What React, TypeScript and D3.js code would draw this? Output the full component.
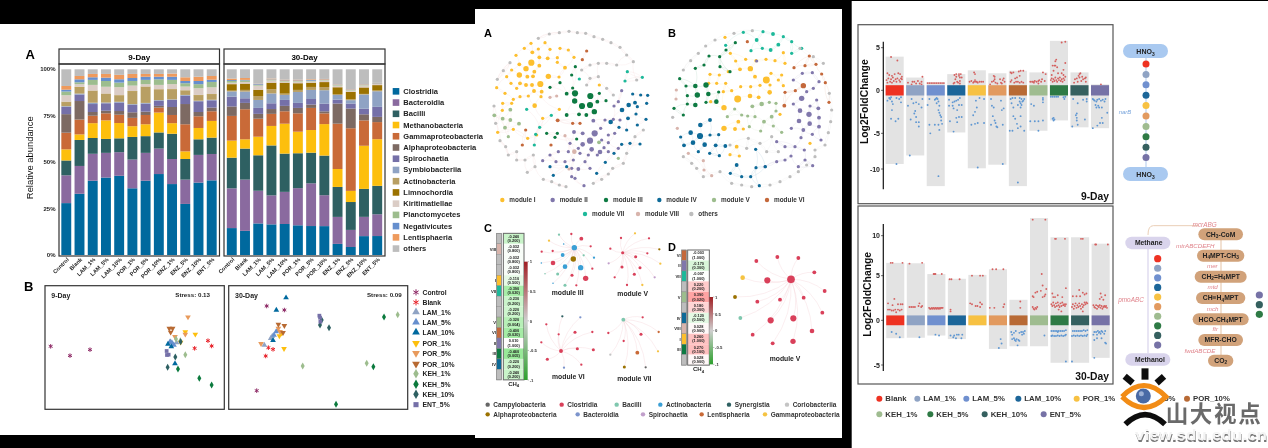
import * as d3 from 'd3';
import React from 'react';

const FONT = '"Liberation Sans", Arial, sans-serif';

// ---- A: stacked bars
const classNames = ['Clostridia', 'Bacteroidia', 'Bacilli', 'Methanobacteria', 'Gammaproteobacteria', 'Alphaproteobacteria', 'Spirochaetia', 'Symbiobacteriia', 'Actinobacteria', 'Limnochordia', 'Kiritimatiellae', 'Planctomycetes', 'Negativicutes', 'Lentisphaeria', 'others'];
const classColors = ['#00699e', '#8a6a9f', '#2e6062', '#fdbf11', '#c96b37', '#7d6a64', '#7570a8', '#8fa3c4', '#b89f63', '#9b7204', '#dbcdc6', '#9dbd8e', '#668fce', '#ee9a5d', '#bdbdbd'];
const samples = ['Control', 'Blank', 'LAM_1%', 'LAM_5%', 'LAM_10%', 'POR_1%', 'POR_5%', 'POR_10%', 'ENZ_1%', 'ENZ_5%', 'ENZ_10%', 'ENT_5%'];
const day9 = [
  [28, 15, 8, 6, 9, 10, 4, 0.3, 2.2, 0.2, 3.5, 2, 1, 2, 9],
  [33, 15, 14, 3, 8, 10, 3.5, 0.5, 3.3, 0.3, 1.5, 1, 1.6, 1.8, 3.6],
  [40, 14.5, 8.5, 8, 4, 2, 4.3, 0.7, 6.3, 0.2, 3.1, 2.7, 1.4, 1.8, 2.5],
  [41.7, 13.3, 7.5, 10, 3.8, 1.4, 4, 0.4, 4.6, 0.2, 3.7, 3.1, 1.8, 2, 2.5],
  [42.9, 12.8, 7.5, 8.3, 4.5, 2, 4.6, 0.4, 3.4, 0.2, 4.3, 2.5, 1.8, 2.4, 3],
  [36, 15.5, 12.2, 5.8, 4.5, 3, 4, 0.4, 6.9, 0.2, 2.9, 2.5, 1.6, 2.2, 2.5],
  [40, 15, 9, 6.4, 5, 1.8, 4.3, 0.4, 8.6, 0.2, 1.3, 2.3, 1.7, 1.5, 2.5],
  [43.6, 13.7, 8.7, 10.7, 2.7, 0.9, 2.7, 0.4, 5.5, 0.3, 2.4, 3, 1.4, 1.5, 2.5],
  [38.2, 13.5, 13.6, 5.7, 4.4, 4.3, 3.8, 0.3, 5.2, 0.3, 2.7, 2.3, 1.7, 1.7, 2.3],
  [27.5, 13.1, 11.1, 4.1, 14.6, 10.9, 4.5, 0.4, 2.3, 0.2, 2, 1.8, 1.2, 2, 4.3],
  [39, 14.9, 8.4, 6.1, 6.3, 2.3, 5.8, 0.3, 2.9, 0.2, 3.6, 2.2, 1.7, 2.3, 4],
  [40.2, 14.2, 8.8, 9, 5.2, 2, 3.9, 0.3, 2.9, 0.2, 3.6, 2.9, 1.2, 2, 3.6]
];
const day30 = [
  [14.5, 21.4, 16.5, 9.2, 13.3, 5.1, 5.3, 2.8, 0.4, 3.5, 0.8, 0.9, 0.5, 0.8, 5],
  [13, 27.6, 16.7, 5, 16.2, 3.4, 2.5, 3.6, 0.9, 3.4, 0.9, 0.8, 0.3, 1, 4.7],
  [17, 17.6, 19.1, 10, 9.7, 2.6, 3.2, 4.3, 2.1, 3.4, 2.2, 0.4, 0.4, 0.2, 7.8],
  [16.5, 15.6, 26.9, 10.5, 6.5, 2.6, 3.1, 5.3, 2.2, 3.6, 1.2, 0.4, 0.2, 0.4, 5],
  [16.7, 17.3, 20.6, 16.1, 6.7, 2.9, 3.2, 2.7, 0.7, 5.9, 0.6, 0.3, 0.3, 0.4, 5.6],
  [16, 20, 18.8, 11.6, 9.9, 2.9, 2.7, 5.9, 1.1, 3.6, 0.9, 0.3, 0.3, 0.4, 5.6],
  [15.6, 23, 16.5, 12.2, 11.9, 1.8, 3, 4.9, 1.6, 2.3, 0.7, 0.3, 0.4, 0.4, 5.4],
  [15.6, 16.7, 21.4, 17, 5.8, 1.1, 4.1, 7.3, 1.7, 2.7, 0.9, 0.3, 0.2, 0.3, 5.2],
  [6, 14.6, 16.2, 9.7, 24.5, 10.9, 2.1, 2.5, 0.5, 3.7, 0.9, 0.3, 0.2, 0.2, 8.1],
  [4.3, 9.2, 15, 6, 33.7, 10.6, 2.7, 1.8, 0.5, 4, 0.7, 0.3, 0.2, 0.2, 10.7],
  [10.2, 10.4, 15.1, 23.3, 13.7, 3.3, 3, 7.7, 0.3, 3.5, 1.1, 0.3, 0.2, 0.2, 8],
  [10.2, 11.7, 15.3, 25.1, 9.2, 2.8, 5.4, 8.4, 0.4, 2.9, 0.6, 0.2, 0.2, 0.2, 7.3]
];
const pctTicks = [0, 0.25, 0.5, 0.75, 1];

// ---- B: NMDS ordination (arbitrary axis units)
const groupNames = ['Control', 'Blank', 'LAM_1%', 'LAM_5%', 'LAM_10%', 'POR_1%', 'POR_5%', 'POR_10%', 'KEH_1%', 'KEH_5%', 'KEH_10%', 'ENT_5%'];
const groupColors = ['#8e2a66', '#e8232a', '#8fa3c4', '#668fce', '#00699e', '#fdbf11', '#e89a5b', '#b86a33', '#9dbd8e', '#0a7a3e', '#2e6062', '#7570a8'];
const groupShapes = ['star', 'star', 'up', 'up', 'up', 'down', 'down', 'down', 'diamond', 'diamond', 'diamond', 'square'];
const nmds9 = [
  [[92, 229], [150, 257], [210, 239]],
  [[564, 212], [575, 228], [524, 235]],
  [[470, 218], [458, 222], [452, 215]],
  [[450, 215], [462, 225], [456, 218]],
  [[444, 222], [454, 230], [465, 281]],
  [[496, 186], [526, 193], [482, 217]],
  [[504, 141], [465, 200], [496, 193]],
  [[448, 175], [458, 175], [452, 187]],
  [[468, 207], [481, 212], [496, 254]],
  [[474, 297], [538, 325], [575, 345]],
  [[466, 261], [443, 292], [482, 215]],
  [[440, 243], [446, 254], [441, 255]]
];
const nmds30 = [
  [[740, 108], [793, 120], [710, 362]],
  [[745, 233], [759, 238], [737, 258]],
  [[733, 225], [757, 198], [752, 205]],
  [[768, 185], [762, 195], [772, 182]],
  [[798, 83], [769, 120], [759, 211]],
  [[792, 236], [778, 198], [785, 190]],
  [[723, 221], [775, 175], [780, 185]],
  [[775, 163], [793, 167], [789, 188]],
  [[848, 288], [1040, 280], [1133, 134]],
  [[1092, 141], [1060, 290], [948, 403]],
  [[905, 150], [900, 165], [927, 173]],
  [[898, 137], [900, 143], [901, 155]]
];

// ---- Co-occurrence networks
const moduleNames = ['module I', 'module II', 'module III', 'module IV', 'module V', 'module VI', 'module VII', 'module VIII', 'others'];
const moduleColors = ['#fdbf2d', '#8077ab', '#0f7a42', '#0f6a98', '#9dbd8e', '#c4683a', '#1fb99a', '#d8b4ac', '#bdbdbd'];
type Node = number[];
const netA: Node[][] = [
  [[183, 70], [225, 68], [163, 85], [205, 87], [240, 88], [270, 85], [138, 106], [187, 97, 5], [208, 112, 5], [233, 115, 5], [262, 113], [295, 90], [312, 112], [148, 133, 5], [184, 128, 8], [168, 146, 7], [208, 137, 5], [262, 127], [285, 143, 5], [193, 155, 5], [148, 165, 7], [125, 150], [110, 170], [235, 169, 7], [172, 170, 5], [189, 169, 5], [267, 171], [123, 190], [150, 190, 5], [168, 195, 5], [186, 195, 5], [211, 192, 8], [80, 203], [105, 220], [140, 205], [192, 213, 5], [215, 215, 5], [130, 238], [150, 230], [175, 228], [213, 230], [98, 250], [194, 257, 6], [125, 250], [97, 271], [218, 295], [268, 268], [130, 328], [83, 337], [173, 355], [200, 345], [388, 195]],
  [[374, 340, 8], [360, 362, 8], [338, 373, 6], [365, 388, 6], [390, 396, 6], [312, 336, 5], [338, 340, 5], [370, 302, 5], [392, 325], [405, 300], [415, 345], [434, 340], [395, 360], [415, 368], [402, 383], [432, 258], [445, 245], [455, 212], [430, 298], [450, 300], [300, 370], [325, 385], [355, 405], [382, 405], [415, 395], [445, 385], [240, 405], [265, 395], [295, 395], [310, 420], [330, 400], [345, 425], [218, 422], [258, 425], [285, 425], [305, 445], [325, 447, 5], [360, 445], [305, 470], [342, 497], [315, 475]],
  [[315, 220, 8], [361, 228, 8], [314, 243, 7], [360, 255, 8], [336, 258, 8], [382, 245, 5], [373, 275, 7], [290, 221, 5], [308, 204], [290, 285, 5], [327, 283, 5], [349, 285, 5], [408, 242], [388, 220], [262, 340], [305, 165], [240, 202], [270, 188], [316, 140], [230, 340], [255, 352], [320, 357]],
  [[476, 255, 6], [456, 270, 6], [495, 248, 5], [422, 306, 6], [474, 295, 5], [498, 282], [502, 260], [530, 250], [533, 226], [512, 225], [488, 222], [528, 298], [502, 315], [470, 330], [447, 322], [432, 400], [406, 427], [480, 370], [510, 372], [455, 373], [240, 440], [250, 466], [380, 460], [290, 440]],
  [[121, 269, 5], [73, 286, 5], [98, 296, 5], [121, 300, 5], [105, 323, 5], [147, 311, 5], [115, 350], [387, 367, 5], [445, 415]],
  [[263, 301, 5], [167, 330], [350, 93], [337, 119], [157, 375], [243, 375], [308, 310], [330, 310]],
  [[472, 155], [517, 172], [465, 183], [328, 177], [170, 268], [244, 286], [209, 322], [197, 343], [193, 375]],
  [[313, 395, 6], [285, 347], [240, 232], [260, 228], [297, 447]],
  [[238, 42], [268, 38], [297, 34], [322, 38], [347, 40], [372, 50], [398, 58], [423, 68], [450, 82], [470, 105], [490, 125], [205, 55], [100, 152], [82, 178], [72, 258], [77, 310], [90, 362], [107, 380], [115, 405], [140, 395], [140, 420], [172, 457], [195, 440], [220, 478], [245, 485], [268, 495], [288, 500], [370, 490], [395, 478], [415, 462], [428, 445], [385, 130], [410, 130], [440, 135], [335, 150], [360, 135], [120, 128], [165, 420], [190, 405], [470, 400], [460, 430], [495, 350], [520, 330], [500, 180], [410, 205], [360, 175], [385, 170], [350, 195], [430, 225]]
];
const netB: Node[][] = [
  [[889, 180, 9], [803, 237, 9], [762, 263, 7], [762, 325, 7], [841, 146, 7], [899, 217, 6], [840, 228, 6], [866, 232, 5], [855, 170, 5], [810, 148, 5], [827, 118], [858, 122], [888, 118], [915, 122], [945, 130], [781, 100], [797, 123], [765, 52], [940, 98], [720, 163], [775, 155], [748, 165], [740, 190], [767, 190], [785, 212], [812, 200], [842, 200], [870, 196], [903, 160], [935, 165], [940, 197], [925, 180], [900, 195], [930, 283], [805, 305, 5], [795, 327, 5], [820, 327], [800, 380, 5], [780, 404], [808, 408], [1020, 370], [722, 245], [716, 190], [760, 215]],
  [[995, 235, 7], [1017, 283, 7], [990, 272, 6], [987, 303, 6], [1019, 311, 6], [1000, 330, 5], [1045, 265, 5], [1047, 293, 5], [1047, 320, 5], [1020, 258], [1010, 215], [1040, 240], [970, 252], [1027, 343], [993, 353], [964, 325], [920, 365], [945, 380], [975, 380], [1003, 390], [1053, 360], [963, 408], [1005, 420], [1028, 437], [970, 180], [997, 160], [1027, 158], [1047, 185], [1030, 205], [860, 123], [985, 440], [885, 440], [920, 425], [945, 420]],
  [[682, 225, 7], [708, 195, 7], [676, 198, 6], [715, 222, 6], [739, 245, 6], [676, 255, 6], [652, 227], [648, 198], [629, 176], [746, 216], [702, 135], [676, 145], [717, 108], [749, 110], [796, 68], [768, 90], [750, 140], [652, 252], [612, 265], [640, 285], [780, 155], [708, 247]],
  [[690, 348, 8], [662, 338, 6], [704, 374, 6], [691, 315, 6], [669, 368, 6], [720, 300, 5], [766, 378, 5], [737, 376, 5], [642, 376, 5], [632, 351], [720, 345], [746, 344], [685, 395], [719, 400], [748, 407], [800, 435, 5], [857, 388], [858, 443], [886, 440], [781, 460], [815, 470], [842, 470], [868, 497]],
  [[875, 252, 6], [847, 259, 5], [794, 267], [815, 285], [833, 288], [855, 290], [882, 305, 5], [905, 290, 5], [898, 247], [918, 250], [772, 290], [838, 320], [872, 333], [910, 318], [935, 337], [918, 273]],
  [[1000, 197, 7], [943, 257, 5], [1055, 162], [1066, 188], [1077, 247], [1018, 108], [1005, 137], [1038, 133], [972, 143], [976, 212], [945, 217], [832, 65]],
  [[860, 60, 5], [925, 74, 5], [902, 90, 5], [909, 42, 5], [879, 35], [940, 50], [965, 65], [995, 85], [820, 37], [767, 76], [843, 92], [877, 85], [965, 100]],
  [[619, 210], [622, 325], [700, 422], [655, 400], [725, 467], [702, 450], [618, 237]],
  [[792, 40], [847, 32], [735, 60], [707, 78], [685, 100], [662, 122], [640, 150], [608, 292], [640, 410], [665, 430], [680, 445], [700, 470], [750, 455], [785, 490], [815, 495], [845, 500], [900, 495], [930, 485], [960, 470], [985, 455], [1010, 435], [1035, 410], [1075, 338], [1082, 305], [1085, 270], [1078, 220], [1060, 130], [1030, 110], [990, 85], [905, 350], [870, 370], [835, 355], [780, 375], [830, 385], [890, 395], [925, 395], [1065, 375], [1035, 390]]
];

// ---- C / D: correlation tables and sub-networks
const taxaNames = ['Campylobacteria', 'Clostridia', 'Bacilli', 'Actinobacteria', 'Synergistia', 'Coriobacteriia', 'Alphaproteobacteria', 'Bacteroidia', 'Spirochaetia', 'Lentisphaeria', 'Gammaproteobacteria'];
const taxaColors = ['#666666', '#d9405a', '#7fc7ae', '#3a9fd5', '#2e6062', '#c4c4c4', '#9b7204', '#7b94cc', '#c19fcb', '#c96b37', '#f5c342'];
const taxaLegendX = [[53, 275, 440, 571, 777, 951], [53, 323, 519, 695, 885]];
const corrC = [-0.24, -0.032, -0.032, -0.032, -0.11, -0.39, -0.23, -0.22, -0.32, -0.4, 0.01, -0.46, -0.22, -0.24];
const pvalC = [0.2, 0.8, 0.8, 0.8, 0.5, 0.02, 0.2, 0.2, 0.004, 0.02, 1, 0.005, 0.2, 0.2];
const modC = [8, 7, 8, 8, 0, 6, 8, 8, 4, 5, 1, 2, 3, 8];
const corrD = [-0.003, -0.17, -0.007, 0.22, 0.39, 0.18, -0.12, 0.028, 0.26, 0.27, 0.028];
const pvalD = [1, 0.3, 1, 0.2, 0.02, 0.3, 0.5, 0.9, 1, 0.1, 0.9];
const modD = [5, 1, 6, 8, 4, 8, 3, 7, 0, 2, 8];
const romans = ['I', 'II', 'III', 'IV', 'V', 'VI', 'VII', 'VIII', ''];
const barTicks = [1, 0.5, 0, -0.5, -1];

// [x, y, radius, taxon]
const subIII = [[313, 98, 7, 3], [332, 158, 7, 3], [285, 155, 6, 3], [278, 120, 5, 3], [310, 132, 7, 6], [249, 144, 6, 1], [347, 190, 7, 1], [334, 71, 5, 1], [362, 94, 3, 1], [367, 161, 3, 1], [304, 57, 3, 1], [267, 59, 3, 2], [237, 77, 3, 10], [281, 87, 2, 3], [215, 110, 3, 1], [248, 108, 3, 1], [341, 121, 3, 2], [372, 128, 3, 3], [214, 144, 2, 3], [225, 176, 2, 2], [263, 177, 4, 2], [306, 181, 4, 1], [249, 205, 2, 3], [285, 211, 4, 2], [319, 211, 3, 1]];
const subV = [[495, 55, 3, 10], [453, 69, 3, 1], [537, 70, 3, 1], [568, 103, 3, 6], [421, 101, 3, 1], [458, 113, 4, 1], [532, 115, 3, 1], [497, 125, 4, 1], [571, 146, 3, 10], [416, 145, 3, 8], [456, 156, 4, 1], [510, 158, 4, 1], [493, 178, 4, 1], [434, 187, 3, 1], [554, 187, 3, 8], [471, 210, 3, 1], [517, 210, 3, 10]];
const subVI = [[277, 304, 3, 4], [331, 307, 3, 7], [229, 328, 3, 1], [315, 352, 4, 1], [367, 351, 3, 1], [266, 358, 3, 1], [214, 382, 3, 1], [273, 408, 5, 1], [322, 401, 4, 1], [370, 404, 4, 1], [232, 433, 4, 1], [334, 449, 3, 1], [282, 458, 3, 7]];
const subVII = [[518, 307, 3, 1], [460, 314, 5, 2], [415, 354, 3, 1], [513, 358, 4, 1], [566, 351, 3, 9], [461, 378, 3, 1], [502, 413, 5, 9], [564, 409, 3, 10], [421, 419, 3, 5], [463, 456, 4, 6], [527, 457, 3, 0]];
const subBig = [[963, 193, 10, 1], [892, 196, 8, 1], [922, 126, 5, 1], [985, 129, 5, 1], [1033, 172, 5, 1], [859, 138, 5, 1], [818, 188, 6, 10], [1064, 228, 5, 1], [1001, 248, 5, 1], [930, 254, 5, 1], [862, 260, 5, 1], [795, 246, 5, 6], [1057, 293, 5, 1], [970, 310, 8, 1], [902, 316, 8, 1], [811, 309, 5, 2], [1026, 348, 6, 1], [848, 359, 5, 1], [969, 379, 7, 1], [908, 385, 5, 1]];

// ---- E: log2 fold change per treatment
const lfcNames = ['Blank', 'LAM_1%', 'LAM_5%', 'LAM_10%', 'POR_1%', 'POR_5%', 'POR_10%', 'KEH_1%', 'KEH_5%', 'KEH_10%', 'ENT_5%'];
const lfcColors = ['#ee3124', '#8fa3c4', '#6f90cf', '#1f6699', '#f7c143', '#e29a5e', '#b86a35', '#9fbc90', '#2f7a45', '#34605f', '#7672a6'];
const maxLfc9 = [3.95, 1.5, 0.95, 1.9, 2.35, 2, 2.3, 2.1, 5.8, 2.1, 0.7];
const minLfc9 = [-9.3, -8.1, -12.4, -4.9, -9.9, -9.4, -12.4, -4.7, -3.5, -4.3, -4.4];
const maxLfc30 = [6.6, 6.55, 5.2, 4.65, 5.1, 5.8, 2.3, 12.2, 9.8, 9.8, 9];
const minLfc30 = [-2, -1.95, -1.7, -2.1, -0.55, -3.2, -2.9, -2.9, -4.75, -4.75, -4.2];
// each point is [jitter, lfc], jitter runs -10..10 across the column
const up9 = [
  [[-4, 3.9], [3, 3.5], [-8, 2], [-6, 1.8], [-3, 1.7], [0, 1.9], [4, 2], [6, 1.9], [-9, 1.2], [-7, 1.4], [-5, 1], [-4, 1.3], [-2, 1.5], [-1, 1.1], [1, 1.3], [2, 1], [3, 1.4], [5, 1.2], [6, 1], [7, 1.4], [8, 1.3], [-8, 0.9], [-3, 0.9], [8, 1.6]],
  [[-8, 0.9], [-3, 1], [-1, 1], [1, 0.8], [3, 1.1], [5, 0.8], [7, 1], [8, 1.6], [7, 0.7], [-4, 0.7]],
  [[-9, 0.85], [-7, 0.85], [-5, 0.85], [-3, 0.85], [-1, 0.85], [1, 0.85], [3, 0.85], [5, 0.85], [7, 0.85], [9, 0.85]],
  [[-2, 0.9], [0, 1.9], [-2, 1.8], [3, 1.9], [4, 1.5], [5, 1.9], [4, 1.1], [2, 0.9], [3, 1.7], [-1, 1.3], [1, 1], [4, 0.8], [-3, 0.8], [6, 1.5], [0, 1.6]],
  [[-8, 1], [-6, 1.1], [-4, 0.9], [-3, 1], [-2, 1.2], [-1, 1], [0, 1], [1, 0.9], [3, 1], [5, 1], [7, 1], [-3, 2.1], [-2, 1.9]],
  [[-8, 0.7], [-6, 1], [-4, 1.1], [-3, 1.3], [-3, 1.6], [-2, 0.9], [0, 0.8], [3, 1.3], [4, 0.9], [6, 1.2], [7, 1.4], [-4, 1.7], [5, 0.8], [8, 1]],
  [[-8, 1], [-7, 1.2], [-5, 2.1], [-7, 2], [-4, 0.9], [-2, 1], [0, 1], [2, 0.9], [4, 1], [6, 0.9], [-1, 1.5], [1, 2.2], [3, 2.3], [6, 2.3], [2, 1.7], [-3, 1.4], [-8, 2.1]],
  [[-9, 1], [-6, 1], [-4, 1.1], [-2, 1], [0, 1.1], [1, 1.2], [3, 1], [4, 1.3], [5, 2.1], [8, 1.9], [7, 1.1], [-7, 1], [-5, 0.9], [0, 0.8]],
  [[-9, 1.2], [-8, 1.4], [-7, 1], [-6, 1.3], [-5, 1.1], [-4, 1.5], [-3, 1.2], [-2, 1], [-1, 1.4], [0, 1.2], [1, 1.5], [2, 1.1], [3, 1.3], [4, 1], [5, 1.4], [6, 1.2], [7, 1.6], [-7, 2.9], [-5, 2.9], [-4, 2.9], [-3, 3.6], [-4, 3.4], [-2, 2.7], [7, 3.2], [-8, 1.8], [-1, 2], [3, 2], [5, 1.8], [3, 5.6], [7, 5.7], [-6, 2.3], [5, 2.4]],
  [[-6, 0.9], [-5, 1.3], [-3, 1.4], [-1, 1.7], [0, 1.5], [1, 2], [3, 1.6], [4, 1.3], [6, 1.4], [7, 1], [7, 1.5], [2, 1.1], [-2, 1], [0, 1.9]],
  [[1, 0.7]]
];
const down9 = [
  [[2, -9.3], [-8, -1.2], [-6, -0.9], [-5, -1], [-4, -0.8], [-3, -1.3], [2, -0.9], [5, -1], [7, -0.8], [-2, -1.6], [7, -1.4], [-3, -2.3], [-4, -3.3], [1, -3.6], [4, -3.3]],
  [[-4, -1], [-2, -1.5], [1, -1.4], [4, -1.6], [8, -1], [0, -2.4], [-5, -3.4], [-1, -2.7], [1, -3.1], [1, -3.7], [4, -3.7], [4, -4.2], [7, -2], [-8, -1.8], [-6, -8.1]],
  [[-7, -1], [-9, -1.7], [-1, -1.1], [0, -1], [1, -0.9], [2, -1], [3, -1.3], [1, -1.5], [4, -1.8], [3, -2.3], [4, -2.6], [5, -2.9], [6, -3.1], [6, -3.5], [7, -3.9], [-7, -4], [-1, -4], [3, -4], [4, -4.6], [-6, -5], [3, -11]],
  [[-8, -1.1], [-8, -1.8], [-4, -1.4], [-2, -1.3], [0, -1.2], [2, -1.1], [4, -0.9], [-4, -1.8], [3, -1.7], [6, -1.7], [-3, -2.1], [1, -2.3], [-7, -3.6], [0, -3.2], [1, -3.7], [3, -3.1], [-3, -4.8], [6, -3.1]],
  [[3, -0.9], [-1, -1.2], [0, -2], [-2, -2.5], [-4, -2.9], [8, -1], [-6, -4], [-2, -3.9], [1, -3.8], [8, -3.8], [1, -9.8]],
  [[-7, -1], [-6, -1.8], [-4, -2], [4, -1.2], [7, -2.1], [5, -2.3], [-5, -3], [-3, -3.5], [-7, -4], [-1, -4.2], [0, -4.3], [-2, -3.8], [6, -4], [6, -9.3]],
  [[-8, -1], [-6, -0.9], [-3, -0.9], [2, -0.9], [4, -1], [2, -1.3], [3, -1.5], [5, -1.3], [6, -1.2], [7, -1], [4, -1.7], [-7, -1.5], [-5, -2], [0, -1.7], [3, -2], [-5, -3], [-3, -3.3], [3, -3], [-9, -4.7], [-6, -4.7], [0, -4.4], [3, -4.2], [7, -4.7], [-1, -3.9], [0, -11.9]],
  [[-8, -1.6], [-5, -1.8], [-9, -3.6], [-4, -3.6], [0, -3.6], [0, -4.7], [5, -3.5], [5, -0.9], [5, -1.1], [5, -1.4]],
  [[-9, -0.75], [-7, -0.75], [-5, -0.75], [-3, -0.75], [-1, -0.75], [5, -0.8], [7, -0.75], [6, -1], [-6, -3.2], [-7, -3.3], [-5, -3.4], [-6, -3.5]],
  [[-7, -1], [-2, -1.5], [-3, -2.7], [-4, -2.9], [-3, -3.2], [-3, -3.5], [6, -3.4], [-8, -4.2], [-2, -4], [4, -1.1], [8, -1], [8, -1.3]],
  [[-8, -1], [-7, -1.1], [-6, -1.2], [-4, -1.3], [-3, -1.1], [-1, -1], [1, -1.2], [3, -1.1], [5, -1.3], [6, -1], [-5, -1.7], [-2, -1.8], [-1, -2], [2, -2], [-4, -2], [8, -2.6], [2, -3.2], [0, -3.8], [3, -3.8], [-8, -4.4], [-3, -4.1]]
];
const up30 = [
  [[-5, 6.6], [-3, 6.6], [8, 6.6], [-8, 1.9], [-3, 1.7], [-1, 2.4], [3, 1.8], [6, 1.8], [8, 1.8], [-8, 1.2], [-6, 1.2], [-4, 1.1], [-2, 1.1], [0, 1.2], [1, 0.9], [3, 1.2], [5, 1.1], [7, 1.2]],
  [[-7, 6.5], [7, 6.6], [-7, 1.5], [-5, 1.5], [-3, 1.5], [-1, 1.5], [3, 1.6], [4, 1.9], [6, 1.5], [7, 1.6]],
  [[-3, 5.2], [-2, 5.2], [-1, 5.2], [6, 5.2], [-8, 1.4], [-7, 1.3], [-6, 1.3], [-5, 1.4], [-4, 1.3], [-3, 1.4], [-2, 1.3], [-1, 1.4], [0, 1.3], [1, 1.4], [2, 1.3], [3, 1.4], [4, 1.3], [5, 1.4], [6, 1.4], [7, 1.4]],
  [[-8, 4.6], [-6, 4.6], [3, 4.6], [-7, 1.2], [-7, 1]],
  [[-6, 5], [3, 5], [6, 5], [-8, 1.9], [-6, 1.8], [-2, 1.6], [0, 1.6], [3, 2], [3, 1.5], [5, 1.8]],
  [[-6, 5.8], [-2, 5.8], [6, 5.8], [-9, 1.4], [-4, 1.4], [6, 1.5], [7, 1.8]],
  [[2, 2.1], [2, 1.4]],
  [[-7, 12], [7, 12], [3, 5.2], [4, 3.9], [-6, 2.6], [-7, 2.7], [-4, 3.1], [-2, 3.2], [2, 3.3], [4, 2.6], [6, 2.7], [8, 3.5], [7, 2.9], [-7, 1.5], [-5, 1.2], [-6, 1.3], [-4, 1.4], [-2, 1.5], [-3, 1.3]],
  [[-5, 9.6], [-4, 9.6], [6, 9.6], [-9, 1.8], [-8, 1.6], [-7, 2], [-6, 1.7], [-5, 1.5], [-4, 1.9], [-3, 1.6], [-2, 2], [-1, 1.7], [0, 1.5], [1, 1.9], [2, 1.6], [3, 2], [4, 1.7], [5, 1.8], [6, 1.6], [-8, 3], [-7, 2.6], [-5, 2.6], [-2, 2.8], [3, 2.6], [7, 3.6], [7, 1.8], [2, 1], [-1, 1.2]],
  [[1, 9.6], [3, 9.6], [-9, 1.5], [-8, 1.8], [-7, 1.3], [-6, 1.6], [-5, 1.9], [-4, 1.4], [-3, 1.7], [-2, 1.5], [-1, 1.9], [0, 1.6], [1, 1.3], [2, 1.8], [3, 1.5], [4, 1.7], [5, 2], [6, 1.8], [7, 2], [8, 1.9], [-8, 2.7], [-4, 2.7], [-1, 3.4], [0, 2.7], [3, 3.1], [5, 2.9], [7, 3], [3, 1]],
  [[-6, 8.9], [-5, 8.9], [8, 8.9], [0, 3], [1, 2.6], [5, 2.8], [-1, 2.4], [3, 2.3], [-8, 1.7], [-7, 1.5], [-6, 1.4], [-5, 1.7], [-4, 1.3], [-3, 1.6], [-2, 1.5], [-1, 1.7], [0, 1.4], [1, 1.6], [2, 1.3], [3, 1.5], [4, 1.6], [5, 1.5], [6, 1.6], [7, 1.4]]
];
const down30 = [
  [[-4, -1.3], [1, -1.5], [5, -1.9]],
  [[4, -1.9]],
  [[-1, -1.6], [3, -1.7]],
  [[-7, -1.7], [-4, -1.9], [-1, -2], [2, -1.6], [6, -1.6], [-3, -1.7], [5, -2], [0, -1.6]],
  [],
  [[3, -2.1], [4, -2.6], [1, -3.1]],
  [[-8, -1.3], [-7, -1.6], [-5, -1.4], [-3, -1.2], [1, -1.4], [3, -1.3], [5, -1.3], [7, -1.2], [-7, -2.1], [-5, -2], [-4, -2.2], [-2, -2.1], [0, -2.2], [1, -2.3], [-1, -2.8], [4, -1.6], [6, -1.5], [-3, -2.3]],
  [[6, -1.7]],
  [[-9, -1.2], [-7, -1.2], [-5, -1.2], [-3, -1.2], [-1, -1.2], [1, -1.2], [3, -1.2], [-2, -1.3], [7, -1.1], [5, -1.2], [-9, -1.75], [-8, -1.7], [-6, -1.75], [-4, -1.75], [-2, -1.7], [0, -1.75], [2, -1.7], [4, -1.75], [6, -1.7], [7, -1.6], [7, -4.6]],
  [[-9, -4.6], [-8, -1.2], [-6, -1.2], [-4, -1.2], [-2, -1.2], [0, -1.2], [2, -1.2], [4, -1.1], [6, -1.2], [8, -1.1], [-9, -1.75], [-7, -1.7], [-5, -1.75], [-3, -1.7], [-1, -1.75], [1, -1.7], [3, -1.75], [5, -1.7], [7, -1.75], [8, -1.6]],
  [[-8, -1.6], [-7, -1.3], [-5, -1.3], [-4, -1.6], [-3, -1.2], [-2, -1.4], [-1, -1.3], [0, -1.5], [1, -1.2], [2, -1.3], [4, -1.5], [5, -1.2], [-7, -2.2], [-4, -2], [1, -2], [5, -2.5], [6, -2.6], [-7, -4.2]]
];

const pathwayDots = [0, 1, 2, 3, 4, 5, 7, 8, 9, 10];
const methaneSteps = ['CH_3-CoM', 'H_4MPT-CH_3', 'CH_2=H_4MPT', 'CH≡H_4MPT', 'HCO-CH_4MPT', 'MFR-CHO', 'CO_2'];
const methaneEnzymes = ['mtrABCDEFH', 'mer', 'mtd', 'mch', 'ftr', 'fwdABCDE'];

// the figure is three pasted panels, positions below follow their 3x crops
const zx = (ox: number) => (z: number) => ox + z / 3;

// text with _x subscripts
function Sub({ s }: { s: string }) {
  const parts = s.split(/_(.)/);
  return (
    <>
      {parts.map((p, i) =>
        i % 2 === 1 ? (
          <tspan key={i} dy={1.5} fontSize="0.7em">{p}</tspan>
        ) : (
          <tspan key={i} dy={i > 0 ? -1.5 : 0}>{p}</tspan>
        )
      )}
    </>
  );
}

function StackPanel({ rows, x0, x1, title, stripX, stripW }: any) {
  const xBand = d3.scaleBand<string>().domain(samples).range([x0, x1]).paddingInner(0.25).paddingOuter(0.1);
  const y = d3.scaleLinear().domain([0, 1]).range([255, 69.3]);
  const series = d3.stack<any, number>().keys(classNames.map((_, i) => i)).offset(d3.stackOffsetExpand)(rows);
  return (
    <g>
      <rect x={stripX} y={49} width={stripW} height={15} fill="#fff" stroke="#333" strokeWidth={1.2} />
      <text x={stripX + stripW / 2} y={59.5} textAnchor="middle" fontSize={8} fontWeight="bold">{title}</text>
      {series.map((s, k) => (
        <g key={k} fill={classColors[k]}>
          {s.map((d, i) => (
            <rect key={i} x={xBand(samples[i])} y={y(d[1])} width={xBand.bandwidth()} height={Math.max(0, y(d[0]) - y(d[1]))} />
          ))}
        </g>
      ))}
      <rect x={stripX} y={64} width={stripW} height={192} fill="none" stroke="#333" strokeWidth={1.2} />
      {samples.map((s) => (
        <text key={s} transform={`translate(${xBand(s)! + xBand.bandwidth() / 2 + 3},260) rotate(-45)`} textAnchor="end" fontSize={5.6} fontWeight="bold" fill="#222">{s}</text>
      ))}
    </g>
  );
}

function Ordination({ pts, box, title, stress, titleX, stressX }: any) {
  const x = d3.scaleLinear().domain(box.domain).range([box.x, box.x + box.w]);
  const y = d3.scaleLinear().domain([47, 418]).range([285.7, 409.3]);
  return (
    <g>
      <rect x={box.x} y={285.7} width={box.w} height={123.6} fill="#fff" stroke="#333" strokeWidth={1.2} />
      <text x={titleX} y={298} fontSize={7} fontWeight="bold" fill="#222">{title}</text>
      <text x={stressX} y={296.5} textAnchor="end" fontSize={6.2} fontWeight="bold" fill="#222">{stress}</text>
      {pts.map((g: number[][], i: number) =>
        g.map((p, j) => <Marker key={`${i}-${j}`} x={x(p[0])} y={y(p[1])} size={14} kind={groupShapes[i]} color={groupColors[i]} />)
      )}
    </g>
  );
}

function Marker({ x, y, size, kind, color }: any) {
  const t = kind === 'star' ? d3.symbolAsterisk : kind === 'diamond' ? d3.symbolDiamond : kind === 'square' ? d3.symbolSquare : d3.symbolTriangle;
  const d = d3.symbol().type(t).size(size)()!;
  const rot = kind === 'down' ? 180 : 0;
  return <path d={d} transform={`translate(${x},${y}) rotate(${rot})`} fill={kind === 'star' ? 'none' : color} stroke={kind === 'star' ? color : 'none'} strokeWidth={kind === 'star' ? 1 : 0} />;
}

function curve(x0: number, y0: number, x1: number, y1: number) {
  const p = d3.path();
  p.moveTo(x0, y0);
  p.quadraticCurveTo((x0 + x1) / 2 + (y1 - y0) * 0.18, (y0 + y1) / 2 - (x1 - x0) * 0.18, x1, y1);
  return p.toString();
}

function Network({ modules, pink }: { modules: Node[][]; pink: boolean }) {
  const x = zx(470);
  const y = zx(20);
  return (
    <g>
      {modules.map((nodes, m) => (
        <g key={m} fill="none" stroke={pink ? '#f0cccc' : moduleColors[m]} strokeWidth={0.3} opacity={pink ? 0.6 : 0.28}>
          {nodes.map((a, i) => {
            // each node is tied to its two closest neighbours of the module
            const near = nodes
              .filter((_, j) => j !== i)
              .sort((p, q) => Math.hypot(p[0] - a[0], p[1] - a[1]) - Math.hypot(q[0] - a[0], q[1] - a[1]))
              .slice(0, 2)
              .filter((b) => Math.hypot(b[0] - a[0], b[1] - a[1]) < 70);
            return near.map((b, j) => <path key={`${i}-${j}`} d={curve(x(a[0]), y(a[1]), x(b[0]), y(b[1]))} />);
          })}
        </g>
      ))}
      {modules.map((nodes, m) => (
        <g key={m} fill={moduleColors[m]}>
          {nodes.map((n, i) => <circle key={i} cx={x(n[0])} cy={y(n[1])} r={(n[2] || 4.2) / 2.6} />)}
        </g>
      ))}
    </g>
  );
}

function SubNet({ nodes, title, tx, ty }: any) {
  const x = zx(470);
  const y = zx(215);
  const hub = nodes.reduce((a: number[], b: number[]) => (b[2] > a[2] ? b : a));
  return (
    <g>
      <g fill="none" stroke="#eba9b2" strokeWidth={0.35} opacity={0.55}>
        {nodes.map((n: number[], i: number) => n !== hub && <path key={i} d={curve(x(hub[0]), y(hub[1]), x(n[0]), y(n[1]))} />)}
      </g>
      {nodes.map((n: number[], i: number) => <circle key={i} cx={x(n[0])} cy={y(n[1])} r={n[2] / 2.6} fill={taxaColors[n[3]]} />)}
      <text x={x(tx)} y={y(ty)} textAnchor="middle" fontSize={6.8} fontWeight="bold" fill="#222">{title}</text>
    </g>
  );
}

function CorrTable({ corr, pval, mods, sideX, heatX, heatW, top, bar, labelX }: any) {
  const x = zx(470);
  const y = zx(215);
  const rowH = 31.4;
  const fill = d3.scaleLinear<string>().domain([-1, 0, 1]).range(['#1fd01f', '#ffffff', '#ff1313']);
  const barY = d3.scaleLinear().domain([1, -1]).range([bar.y0, bar.y1]);
  const gradH = bar.y1 - bar.y0;
  const bottom = top + rowH * corr.length;
  return (
    <g>
      {corr.map((c: number, i: number) => (
        <g key={i}>
          <rect x={x(sideX)} y={y(top + i * rowH)} width={14 / 3} height={rowH / 3} fill={moduleColors[mods[i]]} stroke="#888" strokeWidth={0.4} />
          <text x={x(labelX)} y={y(top + i * rowH + rowH / 2 + 5)} textAnchor="end" fontSize={4.2} fontWeight="bold" fill="#222">{romans[mods[i]]}</text>
          <rect x={x(heatX)} y={y(top + i * rowH)} width={heatW / 3} height={rowH / 3} fill={fill(c)} />
          <text x={x(heatX + heatW / 2)} y={y(top + i * rowH + 13)} textAnchor="middle" fontSize={3.9} fontWeight="bold" fill="#222">{c.toFixed(3)}</text>
          <text x={x(heatX + heatW / 2)} y={y(top + i * rowH + 26)} textAnchor="middle" fontSize={3.9} fontWeight="bold" fill="#222">{`(${pval[i].toFixed(3)})`}</text>
        </g>
      ))}
      <rect x={x(heatX)} y={y(top)} width={heatW / 3} height={(bottom - top) / 3} fill="none" stroke="#666" strokeWidth={1} />
      <rect x={x(sideX)} y={y(top)} width={14 / 3} height={(bottom - top) / 3} fill="none" stroke="#888" strokeWidth={0.7} />
      <rect x={x(bar.x)} y={y(bar.y0)} width={11 / 3} height={gradH / 3} fill={`url(#${bar.id})`} />
      <linearGradient id={bar.id} x1="0" x2="0" y1="0" y2="1">
        <stop offset="0" stopColor="#a01f24" />
        <stop offset="0.5" stopColor="#cfcfcf" />
        <stop offset="1" stopColor="#2ca02c" />
      </linearGradient>
      {barTicks.map((t) => (
        <g key={t}>
          <line x1={x(bar.x + 11)} x2={x(bar.x + 15)} y1={y(barY(t))} y2={y(barY(t))} stroke="#555" strokeWidth={0.4} />
          <text x={x(bar.x + 17)} y={y(barY(t) + 5)} fontSize={4.2} fontWeight="bold" fill="#333">{t}</text>
        </g>
      ))}
      <text x={x(heatX + heatW / 2)} y={y(bottom + 18)} textAnchor="middle" fontSize={6} fontWeight="bold" fill="#222"><Sub s="CH_4" /></text>
    </g>
  );
}

function LfcPanel({ top, box, yDomain, yRange, tickVals, maxes, mins, ups, downs, label, labelY, left, titleY }: any) {
  const y = d3.scaleLinear().domain(yDomain).range(yRange.map(zx(top)));
  const x = d3.scaleBand<string>().domain(lfcNames).range([left, left + 225.9]).paddingInner(0.12).paddingOuter(0.06);
  const halfBand = box.band;
  const w = x.bandwidth();
  return (
    <g>
      <rect x={box.x} y={box.y} width={box.w} height={box.h} fill="#fff" stroke="#555" strokeWidth={1.2} />
      {lfcNames.map((n, i) => (
        <g key={n}>
          <rect x={x(n)} y={y(maxes[i])} width={w} height={y(mins[i]) - y(maxes[i])} fill="#e3e3e3" />
          {ups[i].map((p: number[], j: number) => <circle key={j} cx={x(n)! + w / 2 + (p[0] / 10) * (w / 2)} cy={y(p[1])} r={0.95} fill="#d4605f" />)}
          {downs[i].map((p: number[], j: number) => <circle key={j} cx={x(n)! + w / 2 + (p[0] / 10) * (w / 2)} cy={y(p[1])} r={0.95} fill="#5f97d2" />)}
          <rect x={x(n)} y={y(halfBand)} width={w} height={y(-halfBand) - y(halfBand)} fill={lfcColors[i]} />
        </g>
      ))}
      <line x1={883.3} x2={883.3} y1={box.axis[0]} y2={box.axis[1]} stroke="#111" strokeWidth={1.2} />
      {tickVals.map((t: number) => (
        <g key={t}>
          <line x1={881} x2={883.3} y1={y(t)} y2={y(t)} stroke="#111" strokeWidth={0.6} />
          <text x={880} y={y(t) + 2.5} textAnchor="end" fontSize={7} fontWeight="bold" fill="#222">{t}</text>
        </g>
      ))}
      <text transform={`translate(${box.titleX},${titleY}) rotate(-90)`} textAnchor="middle" fontSize={10.4} fontWeight="bold" fill="#111">Log2FoldChange</text>
      <text x={1109} y={labelY} textAnchor="end" fontSize={10.3} fontWeight="bold" fill="#111">{label}</text>
    </g>
  );
}

function Logo() {
  const x = zx(1100);
  const y = zx(205);
  const arc = (a: number, b: number, c: number, d: number, e: number, f: number) => `M${x(a)} ${y(b)}Q${x(c)} ${y(d)} ${x(e)} ${y(f)}`;
  return (
    <g fill="none">
      <line x1={x(135)} x2={x(135)} y1={y(490)} y2={y(524)} stroke="#111" strokeWidth={7} />
      <line x1={x(74)} x2={x(98)} y1={y(514)} y2={y(534)} stroke="#111" strokeWidth={6.5} />
      <line x1={x(192)} x2={x(170)} y1={y(514)} y2={y(534)} stroke="#111" strokeWidth={6.5} />
      <path d={arc(66, 575, 132, 508, 198, 575) + arc(198, 575, 132, 640, 66, 575).replace(/^M[^Q]+/, '')} stroke="#f28c13" strokeWidth={5} fill="#fff" />
      <circle cx={x(130)} cy={y(573)} r={7.5} fill="#4a6aa5" />
      <circle cx={x(124)} cy={y(566)} r={2.5} fill="#9cb0d4" />
      <path d={arc(76, 658, 135, 600, 195, 658)} stroke="#111" strokeWidth={5.5} />
      <text x={x(197)} y={422} fontFamily='"Noto Sans CJK SC"' fontSize={22.5} fontWeight="bold" fill="#6b6b6b" textLength={95} lengthAdjust="spacing">山大视点</text>
      <text x={x(105) + 0.5} y={442} fontSize={14.5} fontWeight="bold" fill="#777" textLength={132} lengthAdjust="spacingAndGlyphs">view.sdu.edu.cn</text>
      <text x={x(105)} y={440} fontSize={14.5} fontWeight="bold" fill="#f4f4f4" textLength={132} lengthAdjust="spacingAndGlyphs">view.sdu.edu.cn</text>
    </g>
  );
}

export default function App() {
  const pctY = d3.scaleLinear().domain([0, 1]).range([255, 69.3]);
  const px3 = zx(470);
  const py3 = zx(20);
  const py4 = zx(215);
  const rx = zx(1100);
  const ry = zx(205);
  const lx = zx(850);
  const ly = zx(205);

  return (
    <svg width={1268} height={448} viewBox="0 0 1268 448" fontFamily={FONT} style={{ position: 'absolute', left: 0, top: 0 }}>
      <filter id="soft" x="0" y="0" width="1" height="1">
        <feGaussianBlur stdDeviation={0.35} />
      </filter>
      <g filter="url(#soft)">
      <rect width={1268} height={448} fill="#000" />
      <rect x={0} y={24} width={476} height={411} fill="#fff" />
      <rect x={475} y={9} width={367} height={429} fill="#fff" />
      <rect x={851.7} y={1} width={417} height={447} fill="#fff" />

      {/* left figure */}
      <text x={25.5} y={58.5} fontSize={13} fontWeight="bold">A</text>
      <StackPanel rows={day9} x0={60} x1={218} title="9-Day" stripX={59} stripW={160.5} />
      <StackPanel rows={day30} x0={225.5} x1={383.5} title="30-Day" stripX={224} stripW={161} />
      <text transform="translate(33,157.7) rotate(-90)" textAnchor="middle" fontSize={9.4} fill="#111">Relative abundance</text>
      {pctTicks.map((t) => (
        <text key={t} x={55.5} y={pctY(t) + 2} textAnchor="end" fontSize={6} fontWeight="bold" fill="#222">{t * 100}%</text>
      ))}
      {classNames.map((c, i) => (
        <g key={c}>
          <rect x={392.7} y={30 + (184 + i * 33.7) / 3 - 3.3} width={6.6} height={6.6} fill={classColors[i]} />
          <text x={403.3} y={30 + (184 + i * 33.7) / 3 + 2.5} fontSize={7.5} fontWeight="bold" fill="#222">{c}</text>
        </g>
      ))}
      <text x={24} y={291} fontSize={13} fontWeight="bold">B</text>
      <Ordination pts={nmds9} box={{ x: 45, w: 179.3, domain: [75, 613] }} title="9-Day" stress="Stress: 0.13" titleX={51.3} stressX={210} />
      <Ordination pts={nmds30} box={{ x: 228.7, w: 179, domain: [626, 1163] }} title="30-Day" stress="Stress: 0.09" titleX={235} stressX={401.7} />
      {groupNames.map((g, i) => {
        const yy = 270 + [67, 97, 126, 157, 187, 220, 250, 282, 311, 343, 373, 404][i] / 3;
        return (
          <g key={g}>
            <Marker x={416} y={yy} size={26} kind={groupShapes[i]} color={groupColors[i]} />
            <text x={422.5} y={yy + 2.5} fontSize={6.8} fontWeight="bold" fill="#222">{g}</text>
          </g>
        );
      })}

      {/* middle figure */}
      <text x={484} y={37} fontSize={11} fontWeight="bold">A</text>
      <text x={668} y={37} fontSize={11} fontWeight="bold">B</text>
      <Network modules={netA} pink={true} />
      <Network modules={netB} pink={false} />
      {moduleNames.map((m, i) => {
        const dot = [97, 248, 408, 568, 732, 891, 345, 504, 664][i];
        const row = i < 6 ? 540 : 582;
        return (
          <g key={m}>
            <circle cx={px3(dot)} cy={py3(row)} r={2.2} fill={moduleColors[i]} />
            <text x={px3(dot + 21)} y={py3(row) + 2.2} fontSize={6.4} fontWeight="bold" fill="#333">{m}</text>
          </g>
        );
      })}
      <text x={484} y={232} fontSize={11} fontWeight="bold">C</text>
      <text x={668} y={251} fontSize={11} fontWeight="bold">D</text>
      <CorrTable corr={corrC} pval={pvalC} mods={modC} sideX={80} heatX={100} heatW={62} top={55} labelX={78} bar={{ id: 'barC', x: 162, y0: 140, y1: 495 }} />
      <CorrTable corr={corrD} pval={pvalD} mods={modD} sideX={635} heatX={653} heatW={65} top={105} labelX={632} bar={{ id: 'barD', x: 718, y0: 246, y1: 448 }} />
      <SubNet nodes={subIII} title="module III" tx={293} ty={239} />
      <SubNet nodes={subV} title="module V" tx={488} ty={242} />
      <SubNet nodes={subVI} title="module VI" tx={295} ty={492} />
      <SubNet nodes={subVII} title="module VII" tx={493} ty={497} />
      <SubNet nodes={subBig} title="module V" tx={945} ty={437} />
      {taxaNames.map((t, i) => {
        const row = i < 6 ? 0 : 1;
        const dot = taxaLegendX[row][row ? i - 6 : i];
        const yy = py4(row ? 598 : 569);
        return (
          <g key={t}>
            <circle cx={px3(dot)} cy={yy} r={2.2} fill={taxaColors[i]} />
            <text x={px3(dot + 17)} y={yy + 2.2} fontSize={6.5} fontWeight="bold" fill="#333">{t}</text>
          </g>
        );
      })}

      {/* right figure */}
      <LfcPanel top={20} left={884.4} yDomain={[5, 0, -5, -10]} yRange={[83, 211, 340, 447]} tickVals={[5, 0, -5, -10]}
        box={{ x: 858, y: 24.7, w: 255, h: 179, band: 0.6, axis: [41.7, 189.3], titleX: 868 }} titleY={101.7}
        maxes={maxLfc9} mins={minLfc9} ups={up9} downs={down9} label="9-Day" labelY={200} />
      <LfcPanel top={205} left={885} yDomain={[10, 5, 0, -5]} yRange={[92, 212, 346, 480]} tickVals={[10, 5, 0, -5]}
        box={{ x: 858, y: 206, w: 255, h: 178, band: 0.55, axis: [224, 371], titleX: 871 }} titleY={294.3}
        maxes={maxLfc30} mins={minLfc30} ups={up30} downs={down30} label="30-Day" labelY={380} />

      {/* nitrate */}
      <line x1={1146} x2={1146} y1={58} y2={167} stroke="#bcd2f0" strokeWidth={1.2} />
      <rect x={1123} y={44} width={45} height={14} rx={7} fill="#a9c9f0" />
      <rect x={1123} y={167} width={45} height={14} rx={7} fill="#a9c9f0" />
      <text x={1145.5} y={54} textAnchor="middle" fontSize={7} fontWeight="bold" fill="#222"><Sub s="HNO_3" /></text>
      <text x={1145.5} y={177} textAnchor="middle" fontSize={7} fontWeight="bold" fill="#222"><Sub s="HNO_3" /></text>
      <text x={1125} y={114} textAnchor="middle" fontSize={6} fontStyle="italic" fill="#7ba6dc">narB</text>
      {pathwayDots.map((c, i) => <circle key={c} cx={1146} cy={64 + i * 10.4} r={3.5} fill={lfcColors[c]} />)}

      {/* methane */}
      <path d={`M${rx(295)} ${ry(62)}H${rx(160)}Q${rx(144)} ${ry(62)} ${rx(144)} ${ry(90)}`} fill="none" stroke="#e5c3a5" strokeWidth={0.8} />
      <line x1={rx(144)} x2={rx(144)} y1={ry(132)} y2={ry(445)} stroke="#d9d4ec" strokeWidth={1.2} />
      <rect x={rx(76)} y={ry(95)} width={45} height={12.5} rx={6.2} fill="#d9d4ec" />
      <rect x={rx(76)} y={ry(445)} width={45} height={12.5} rx={6.2} fill="#d9d4ec" />
      <text x={rx(146)} y={ry(113) + 2.5} textAnchor="middle" fontSize={6.8} fontWeight="bold" fill="#222">Methane</text>
      <text x={rx(150)} y={ry(463) + 2.5} textAnchor="middle" fontSize={6.8} fontWeight="bold" fill="#222">Methanol</text>
      <text x={rx(93)} y={ry(285) + 2} textAnchor="middle" fontSize={6.4} fontStyle="italic" fill="#e0848c">pmoABC</text>
      <text x={rx(314)} y={ry(59) + 2} textAnchor="middle" fontSize={6.4} fontStyle="italic" fill="#e0848c">mcrABG</text>
      <line x1={rx(363)} x2={rx(363)} y1={ry(88)} y2={ry(467)} stroke="#e5c3a5" strokeWidth={1} />
      {pathwayDots.map((c, i) => <circle key={c} cx={rx(173)} cy={ry(161 + i * 28.8)} r={3.6} fill={lfcColors[c]} />)}
      {methaneSteps.map((s, i) => {
        const cy = [88, 152, 215, 279, 343, 405, 467][i];
        const w = [134, 142, 156, 148, 168, 134, 76][i] / 3;
        return (
          <g key={s}>
            <rect x={rx(362) - w / 2} y={ry(cy) - 6} width={w} height={12} rx={6} fill="#d1a27a" />
            <text x={rx(362)} y={ry(cy) + 2.3} textAnchor="middle" fontSize={6.8} fontWeight="bold" fill="#222"><Sub s={s} /></text>
          </g>
        );
      })}
      {methaneEnzymes.map((s, i) => (
        <text key={s} x={rx([286, 337, 338, 338, 346, 300][i])} y={ry([124, 184, 247, 311, 373, 437][i]) + 2} textAnchor="middle" fontSize={6.2} fontStyle="italic" fill="#e0848c">{s}</text>
      ))}
      {[10, 9, 8].map((c, i) => <circle key={c} cx={rx(478)} cy={ry(270 + i * 29)} r={3.6} fill={lfcColors[c]} />)}

      {/* treatment legend */}
      {lfcNames.map((n, i) => {
        const row = i < 7 ? 581 : 628;
        const dot = [88, 202, 349, 505, 680, 861, 1011, 88, 241, 404, 581][i];
        return (
          <g key={n}>
            <circle cx={lx(dot)} cy={ly(row)} r={3} fill={lfcColors[i]} />
            <text x={lx(dot + 18)} y={ly(row) + 2.7} fontSize={7.8} fontWeight="bold" fill="#333">{n}</text>
          </g>
        );
      })}
      <Logo />
      </g>
    </svg>
  );
}
